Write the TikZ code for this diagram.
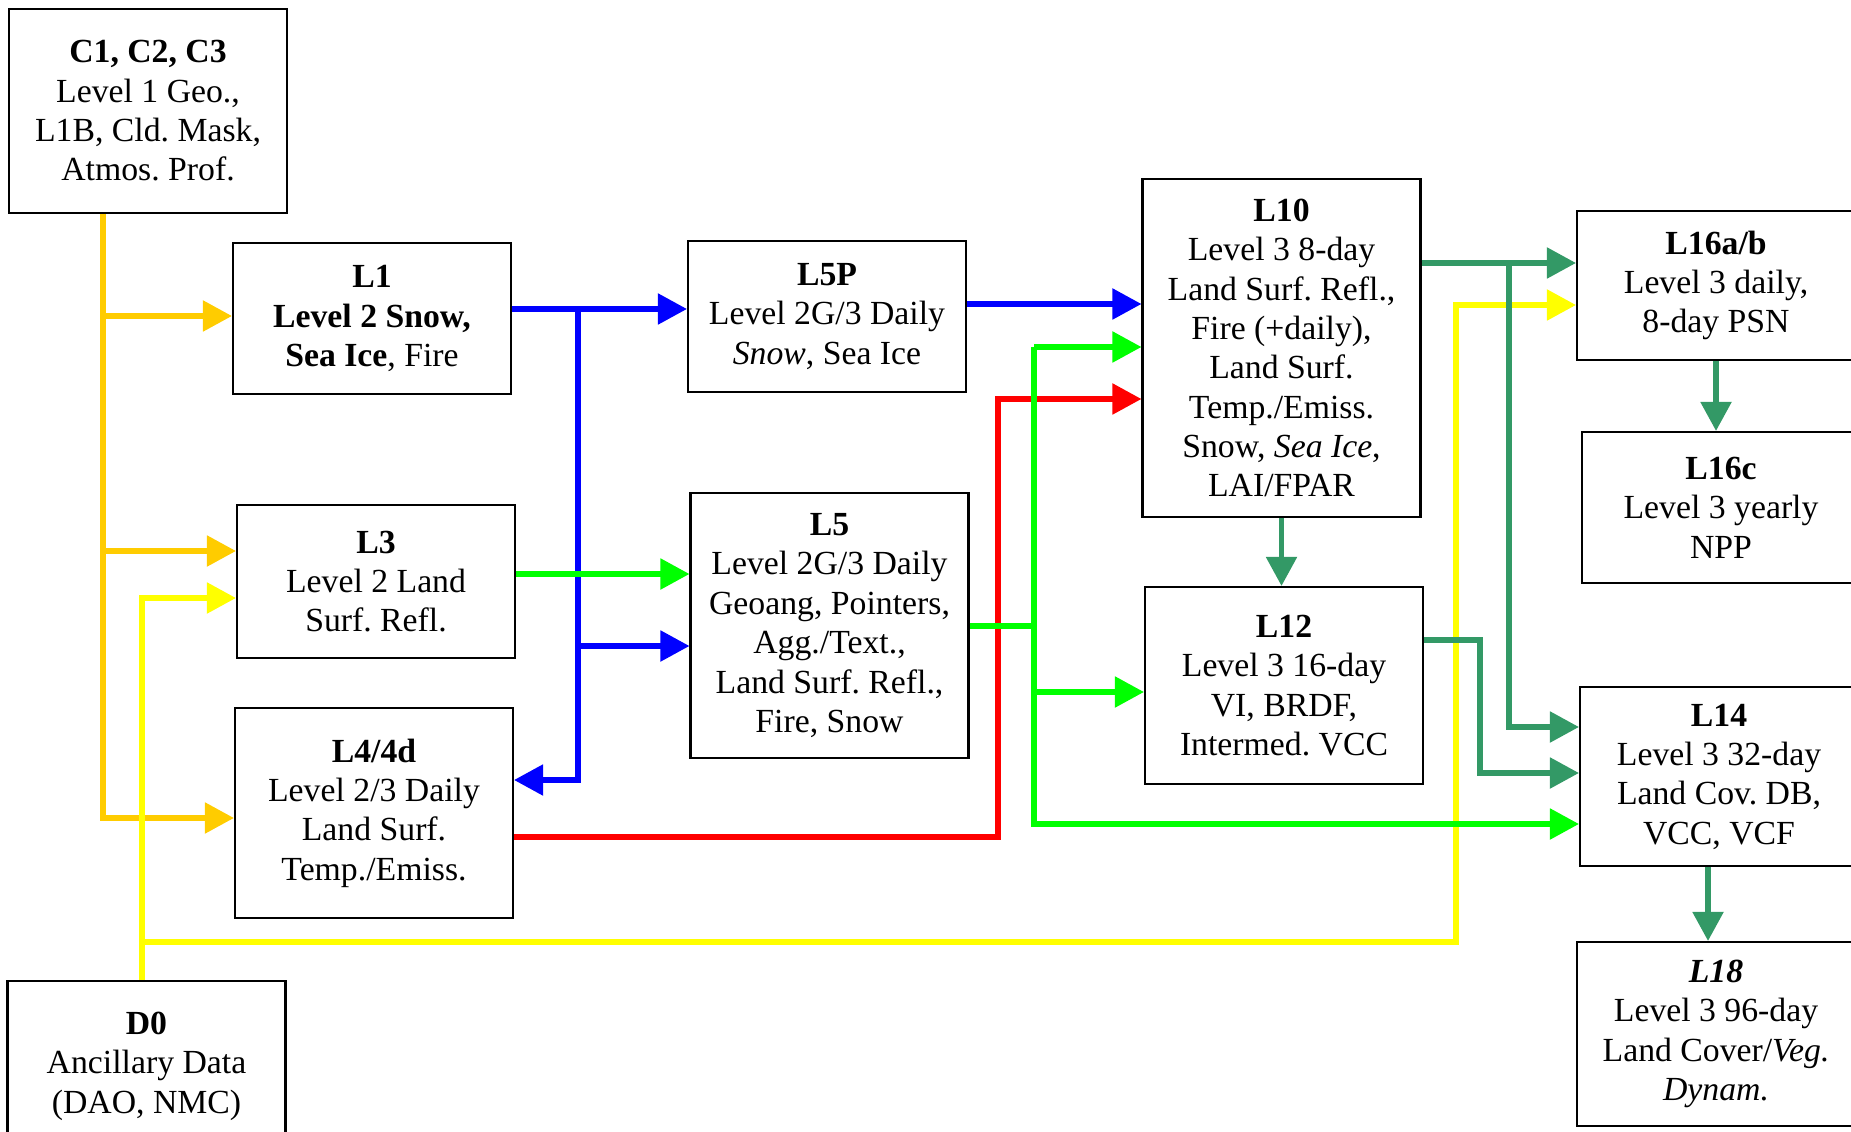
\documentclass[tikz,border=0pt]{standalone}
\usepackage{fontspec}
\setmainfont{Liberation Serif}
\usepackage{xcolor}
\usepackage{tikz}
\usetikzlibrary{positioning,arrows.meta,calc}
\frenchspacing

\definecolor{fgold}{HTML}{FFCC00}
\definecolor{fyellow}{HTML}{FFFF00}
\definecolor{fblue}{HTML}{0000FF}
\definecolor{fgreen}{HTML}{00FF00}
\definecolor{fred}{HTML}{FF0000}
\definecolor{fsea}{HTML}{339966}

\begin{document}
\begin{tikzpicture}[font=\fontsize{9.6}{11.2}\selectfont,
  prod/.style={draw, line width=0.6pt, minimum width=2.78cm, align=center, inner sep=0pt},
  flow/.style={line width=1.5pt, -{Triangle[length=2.9mm,width=3mm]}},
  feed/.style={line width=1.5pt}]
\useasboundingbox (0,0) rectangle (18.51,11.31);
% product boxes, placed by centre
\node[prod, minimum height=2.04cm] (C1) at (1.48,10.20) {\textbf{C1, C2, C3}\\Level 1 Geo.,\\L1B, Cld. Mask,\\Atmos. Prof.};
\node[prod, minimum height=1.51cm] (L1) at (3.72,8.125) {\textbf{L1}\\\textbf{Level 2 Snow,}\\\textbf{Sea Ice}, Fire};
\node[prod, minimum height=1.53cm] (L3) at (3.76,5.495) {\textbf{L3}\\Level 2 Land\\Surf. Refl.};
\node[prod, minimum height=2.10cm] (L4) at (3.74,3.18) {\textbf{L4/4d}\\Level 2/3 Daily\\Land Surf.\\Temp./Emiss.};
\node[prod, minimum height=1.70cm] (D0) at (1.465,0.65) {\textbf{D0}\\Ancillary Data\\(DAO, NMC)};
\node[prod, minimum height=1.51cm] (L5P) at (8.27,8.145) {\textbf{L5P}\\Level 2G/3 Daily\\\textit{Snow}, Sea Ice};
\node[prod, minimum height=2.65cm] (L5) at (8.295,5.055) {\textbf{L5}\\Level 2G/3 Daily\\Geoang, Pointers,\\Agg./Text.,\\Land Surf. Refl.,\\Fire, Snow};
\node[prod, minimum height=3.38cm] (L10) at (12.815,7.83) {\textbf{L10}\\Level 3 8-day\\Land Surf. Refl.,\\Fire (+daily),\\Land Surf.\\Temp./Emiss.\\Snow, \textit{Sea Ice},\\LAI/FPAR};
\node[prod, minimum height=1.97cm] (L12) at (12.84,4.455) {\textbf{L12}\\Level 3 16-day\\VI, BRDF,\\Intermed. VCC};
\node[prod, minimum height=1.49cm] (L16ab) at (17.16,8.455) {\textbf{L16a/b}\\Level 3 daily,\\8-day PSN};
\node[prod, minimum height=1.51cm] (L16c) at (17.21,6.235) {\textbf{L16c}\\Level 3 yearly\\NPP};
\node[prod, minimum height=1.79cm] (L14) at (17.19,3.545) {\textbf{L14}\\Level 3 32-day\\Land Cov. DB,\\VCC, VCF};
\node[prod, minimum height=1.84cm] (L18) at (17.16,0.97) {\textbf{\textit{L18}}\\Level 3 96-day\\Land Cover/\textit{Veg.}\\\textit{Dynam.}};
% bend points
\coordinate (g1) at (1.03,8.15);  \coordinate (g2) at (1.03,5.80); \coordinate (g3) at (1.03,3.13);
\coordinate (y1) at (1.42,5.33);  \coordinate (y2) at (1.42,1.89); \coordinate (y3) at (14.56,1.89); \coordinate (y4) at (14.56,8.26);
\coordinate (b1) at (5.78,8.22);  \coordinate (b2) at (5.78,3.51); \coordinate (b3) at (5.78,4.85); \coordinate (b4) at (10.5,8.27);
\coordinate (n0) at (6.0,5.57);   \coordinate (n1) at (10.34,7.84); \coordinate (n2) at (10.34,3.07);
\coordinate (n3) at (10.34,5.05); \coordinate (n4) at (10.34,4.39);
\coordinate (r1) at (9.98,2.94);  \coordinate (r2) at (9.98,7.32);
\coordinate (s1) at (15.09,8.68); \coordinate (s2) at (15.09,4.04); \coordinate (s3) at (14.80,4.91); \coordinate (s4) at (14.80,3.58);
\coordinate (s5) at (17.08,0);
% level 1 inputs (gold), ancillary (yellow)
\draw[fgold, flow] (C1.south -| g1) -- (g3) -- (L4.west |- g3);
\draw[fgold, flow] (g1) -- (L1.west |- g1);
\draw[fgold, flow] (g2) -- (L3.west |- g2);
\draw[fyellow, flow] (D0.north -| y1) -- (y1) -- (L3.west |- y1);
\draw[fyellow, flow] (y2) -- (y3) -- (y4) -- (L16ab.west |- y4);
% snow / sea ice (blue)
\draw[fblue, flow] (L1.east |- b1) -- (L5P.west |- b1);
\draw[fblue, flow] (b1) -- (b2) -- (L4.east |- b2);
\draw[fblue, flow] (b3) -- (L5.west |- b3);
\draw[fblue, flow] (L5P.east |- b4) -- (L10.west |- b4);
% temperature (red), reflectance (green)
\draw[fred, flow] (L4.east |- r1) -- (r1) -- (r2) -- (L10.west |- r2);
\draw[fgreen, flow] (L3.east |- n0) -- (L5.west |- n0);
\draw[fgreen, feed] (L5.east |- n3) -- (n3);
\draw[fgreen, flow] (n1) -- (n2) -- (L14.west |- n2);
\draw[fgreen, flow] (n1) -- (L10.west |- n1);
\draw[fgreen, flow] (n4) -- (L12.west |- n4);
% level 3 chain (sea green)
\draw[fsea, flow] (L10.east |- s1) -- (L16ab.west |- s1);
\draw[fsea, flow] (s1) -- (s2) -- (L14.west |- s2);
\draw[fsea, flow] (L12.east |- s3) -- (s3) -- (s4) -- (L14.west |- s4);
\draw[fsea, flow] (L10.south) -- (L12.north -| L10.south);
\draw[fsea, flow] (L16ab.south) -- (L16c.north -| L16ab.south);
\draw[fsea, flow] (L14.south -| s5) -- (L18.north -| s5);
\end{tikzpicture}
\end{document}
